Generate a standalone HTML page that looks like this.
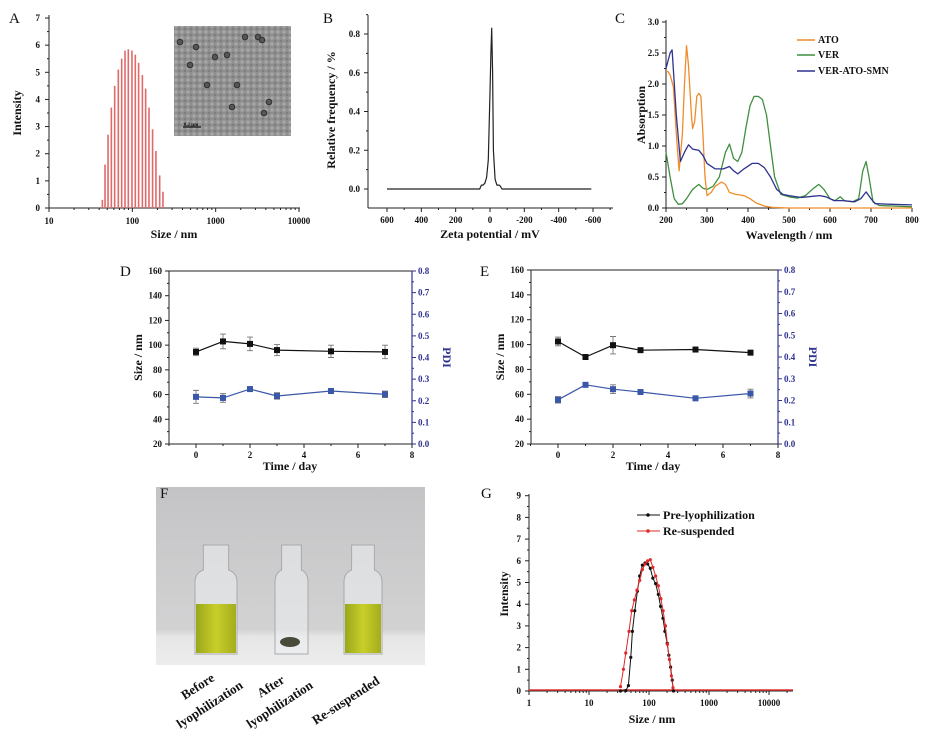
<!DOCTYPE html>
<html><head><meta charset="utf-8">
<style>
html,body{margin:0;padding:0;background:#fff;}
svg{display:block;font-family:"Liberation Serif",serif;}
text{font-weight:bold;fill:#111;}
</style></head>
<body>
<svg id="fig" width="928" height="738" viewBox="0 0 928 738" xmlns="http://www.w3.org/2000/svg">
<defs>
<linearGradient id="bg" x1="0" y1="0" x2="0" y2="1">
<stop offset="0" stop-color="#c4c4c6"/><stop offset="0.8" stop-color="#d2d2d3"/><stop offset="0.84" stop-color="#e6e6e6"/><stop offset="1" stop-color="#ededed"/>
</linearGradient>
<linearGradient id="liq" x1="0" y1="0" x2="1" y2="0">
<stop offset="0" stop-color="#9aa81a"/><stop offset="0.5" stop-color="#c8cf2a"/><stop offset="1" stop-color="#a4ad1c"/>
</linearGradient>
<pattern id="tem" width="6" height="6" patternUnits="userSpaceOnUse"><rect width="6" height="6" fill="#8f8f8f"/><circle cx="2" cy="2" r="1.6" fill="#a9a9a9"/><circle cx="5" cy="5" r="1.2" fill="#7d7d7d"/></pattern>
</defs>
<g id="root"></g>
</svg>
<script>
// ---------- data ----------
const aSizes = [43.7,47.0,51.1,56.0,61.4,67.9,74.5,81.7,89.5,99,108.6,119,132,144.5,158.5,175,192,213,233];
const aIntensity = [0.3,1.6,2.7,3.7,4.5,5.1,5.5,5.8,5.85,5.8,5.65,5.35,4.9,4.4,3.7,2.9,2.1,1.2,0.6];
const aXTicks = [10,100,1000,10000];
const aYTicks = [0,1,2,3,4,5,6,7];

const bZeta = [600,100,60,50,40,30,20,10,0,-5,-10,-15,-20,-30,-40,-55,-60,-70,-590];
const bFreq = [0,0,0,0.02,0.02,0.03,0.06,0.15,0.5,0.7,0.83,0.6,0.2,0.05,0.02,0.02,0.015,0,0];
const bXTicks = [600,400,200,0,-200,-400,-600];
const bYTicks = [0,0.2,0.4,0.6,0.8];

const cAtoW = [200,205,210,218,225,232,240,245,250,255,262,265,270,275,280,285,290,295,300,310,320,335,345,355,370,390,405,420,440,460,500,800];
const cAtoA = [2.2,2.2,2.15,1.95,1.2,0.6,1.2,2.0,2.62,2.3,1.5,1.28,1.4,1.8,1.85,1.8,1.2,0.5,0.2,0.25,0.35,0.42,0.38,0.25,0.22,0.2,0.15,0.08,0.03,0.01,0,0];
const cVerW = [200,210,220,230,240,250,265,280,290,300,315,330,345,355,365,375,385,395,405,415,425,435,445,455,465,480,500,520,540,560,573,585,600,612,625,635,655,670,680,688,695,705,720,800];
const cVerA = [0.9,0.5,0.15,0.06,0.07,0.15,0.3,0.38,0.32,0.3,0.35,0.5,0.9,1.03,0.8,0.75,0.9,1.3,1.65,1.8,1.8,1.75,1.5,1.0,0.5,0.22,0.18,0.16,0.2,0.32,0.38,0.3,0.15,0.12,0.18,0.12,0.1,0.15,0.6,0.75,0.5,0.1,0.04,0.02];
const cSmnW = [200,210,215,225,235,245,255,265,280,290,300,320,340,355,365,375,390,410,425,440,455,470,485,500,530,560,575,590,610,630,660,675,688,700,710,750,800];
const cSmnA = [2.25,2.5,2.55,1.5,0.75,0.9,1.02,0.95,0.93,0.85,0.72,0.63,0.63,0.67,0.6,0.55,0.63,0.72,0.72,0.65,0.5,0.3,0.22,0.2,0.17,0.19,0.2,0.18,0.12,0.12,0.1,0.15,0.26,0.15,0.07,0.06,0.05];
const cXTicks = [200,300,400,500,600,700,800];
const cYTicks = [0,0.5,1.0,1.5,2.0,2.5,3.0];

const days = [0,1,2,3,5,7];
const dSize = [94.5,103,101,96,95,94.5];
const dSizeErr = [3,6,5.5,4.5,5,5.5];
const dPdi = [0.218,0.213,0.254,0.222,0.245,0.23];
const dPdiErr = [0.03,0.02,0.005,0.015,0.005,0.015];
const eSize = [102.5,90,99.5,95.5,96,93.5];
const eSizeErr = [3.5,1,7,1,1,1];
const ePdi = [0.203,0.272,0.252,0.239,0.21,0.232];
const ePdiErr = [0.015,0.005,0.02,0.005,0.005,0.02];
const sizeTicks = [20,40,60,80,100,120,140,160];
const pdiTicks = [0,0.1,0.2,0.3,0.4,0.5,0.6,0.7,0.8];
const dayTicks = [0,2,4,6,8];

const gPreS = [33.5,41,45.4,49.7,52.9,57.9,64.1,70,77.6,85.9,95,105,116,129,143,156,171,184,201,214,229,244,256];
const gPreI = [0,0.02,0.25,1.55,2.75,3.7,4.6,5.3,5.8,5.9,5.85,5.65,5.2,4.95,4.45,3.9,3.35,2.75,2.2,1.65,1.1,0.5,0];
const gResS = [33.5,37.5,41,46.5,51.5,57,63,70,77.6,86,95,105,116,129,143,158,172,188,203,219,236,251];
const gResI = [0.2,1.0,1.75,2.75,3.7,4.2,4.65,5.1,5.6,5.85,6.0,6.05,5.7,5.3,4.85,4.25,3.7,3.0,2.15,1.45,0.7,0.15];
const gXTicks = [1,10,100,1000,10000];
const gYTicks = [0,1,2,3,4,5,6,7,8,9];

// ---------- helpers ----------
const NS = 'http://www.w3.org/2000/svg';
const root = document.getElementById('root');
function mk(tag, attrs, parent){
  const e = document.createElementNS(NS, tag);
  for (const k in attrs) e.setAttribute(k, attrs[k]);
  (parent || root).appendChild(e);
  return e;
}
function txt(x,y,s,size,anchor,parent,fill,rot){
  const t = mk('text',{x:x,y:y,'font-size':size,'text-anchor':anchor||'middle'},parent);
  if (fill) t.setAttribute('style','fill:'+fill);
  if (rot!==undefined) t.setAttribute('transform','rotate('+rot+' '+x+' '+y+')');
  t.textContent = s;
  return t;
}
function line(x1,y1,x2,y2,stroke,w,parent){
  return mk('line',{x1:x1,y1:y1,x2:x2,y2:y2,stroke:stroke||'#222','stroke-width':w||1},parent);
}
function poly(xs,ys,stroke,w,parent){
  const p = xs.map((x,i)=>x.toFixed(1)+','+ys[i].toFixed(1)).join(' ');
  return mk('polyline',{points:p,fill:'none',stroke:stroke,'stroke-width':w||1.2,'stroke-linejoin':'round'},parent);
}
function panelLabel(x,y,s){
  const t = mk('text',{x:x,y:y,'font-size':15,'text-anchor':'start',style:'font-weight:normal;fill:#111'});
  t.textContent = s;
  
  
}

// ---------- Panel A ----------
{
  const g = mk('g',{});
  
  
  const xs = v => 49 + (Math.log10(v)-1)*83.33;
  const ys = v => 208 - v*27.14;
  const al = line(49,208,49,15,'#222',1,g);
  
  
  const bl = line(49,208,300,208,'#222',1,g);
  
  
  aYTicks.forEach(v=>{
    line(45,ys(v),49,ys(v),'#222',1,g);
    if (v<7) line(47,ys(v+0.5),49,ys(v+0.5),'#222',1,g);
    const t = txt(40,ys(v)+3,String(v),9,'end',g);
    
    
  });
  aXTicks.forEach((v,i)=>{
    line(xs(v),208,xs(v),212,'#222',1,g);
    if (i<aXTicks.length-1) for (let m=2;m<10;m++) line(xs(v*m),208,xs(v*m),210,'#222',1,g);
    const t = txt(xs(v),224,String(v),9,'middle',g);
    
    
  });
  aSizes.forEach((s,i)=>{
    const b = mk('rect',{x:xs(s)-0.8,y:ys(aIntensity[i]),width:1.6,height:208-ys(aIntensity[i]),fill:'#e06a6a'},g);
    
    
  });
  const t1 = txt(21,113,'Intensity',12,'middle',g,null,-90);
  
  
  const t2 = txt(174,238,'Size / nm',12,'middle',g);
  
  
  const inset = mk('rect',{x:174,y:26,width:117,height:110,fill:'url(#tem)'},g);
  
  
  [[180,42],[196,47],[190,65],[207,85],[245,37],[258,37],[262,40],[237,85],[269,102],[264,113],[232,107],[215,57],[227,55]].forEach(p=>{
    const c = mk('circle',{cx:p[0],cy:p[1],r:2.8,fill:'#555',stroke:'#333','stroke-width':1},g);
    
    
  });
  line(183,127,201,127,'#111',1.2,g);
  const sb = txt(191,126,'0.2 μm',5,'middle',g);
  
  
}

// ---------- Panel B ----------
{
  const g = mk('g',{});
  
  
  const xs = v => 387 + (600-v)/1200*206;
  const ys = v => 189 - v/0.8*155;
  const al = line(368,208,368,15,'#222',1,g);
  
  
  const bl = line(368,208,613,208,'#222',1,g);
  
  
  bYTicks.forEach(v=>{
    line(364,ys(v),368,ys(v),'#222',1,g);
    line(366,ys(v+0.1),368,ys(v+0.1),'#222',1,g);
    const t = txt(360,ys(v)+3,v.toFixed(1),9,'end',g);
    
    
  });
  bXTicks.forEach(v=>{
    line(xs(v),208,xs(v),212,'#222',1,g);
    line(xs(v-100),208,xs(v-100),210,'#222',1,g);
    const t = txt(xs(v),223,String(v),9,'middle',g);
    
    
  });
  const p = poly(bZeta.map(xs),bFreq.map(ys),'#222',1.2,g);
  
  
  const t1 = txt(335,110,'Relative frequency / %',12,'middle',g,null,-90);
  
  
  const t2 = txt(490,238,'Zeta potential / mV',12,'middle',g);
  
  
}

// ---------- Panel C ----------
{
  const g = mk('g',{});
  
  
  const xs = v => 666 + (v-200)*0.41;
  const ys = v => 208 - v*62;
  const al = line(666,208,666,20,'#222',1,g);
  
  
  const bl = line(666,208,912,208,'#222',1,g);
  
  
  cYTicks.forEach(v=>{
    line(662,ys(v),666,ys(v),'#222',1,g);
    if (v<3) line(664,ys(v+0.25),666,ys(v+0.25),'#222',1,g);
    const t = txt(659,ys(v)+3,v.toFixed(1),9,'end',g);
    
    
  });
  cXTicks.forEach(v=>{
    line(xs(v),208,xs(v),212,'#222',1,g);
    if (v<800) line(xs(v+50),208,xs(v+50),210,'#222',1,g);
    const t = txt(xs(v),223,String(v),9,'middle',g);
    
    
  });
  const p1 = poly(cVerW.map(xs),cVerA.map(ys),'#3f8f3f',1.3,g);
  
  
  const p2 = poly(cAtoW.map(xs),cAtoA.map(ys),'#f08c2a',1.3,g);
  
  
  const p3 = poly(cSmnW.map(xs),cSmnA.map(ys),'#2f3290',1.3,g);
  
  
  const leg = [['ATO','#f08c2a',43],['VER','#3f8f3f',58],['VER-ATO-SMN','#2f3290',74]];
  leg.forEach(l=>{
    const ln = line(797,l[2]-3,815,l[2]-3,l[1],1.5,g);
    
    
    const t = txt(818,l[2],l[0],10,'start',g);
    
    
  });
  const t1 = txt(645,115,'Absorption',12,'middle',g,null,-90);
  
  
  const t2 = txt(789,239,'Wavelength / nm',12,'middle',g);
  
  
}

// ---------- Panels D & E ----------
function stability(name, L, R, T, B, x0, dx, size, sizeErr, pdi, pdiErr, titleX){
  const g = mk('g',{});
  
  
  const xs = d => x0 + d*dx;
  const ys = s => B - (s-20)*(B-T)/140;
  const yp = p => B - p*(B-T)/0.8;
  const frame = mk('rect',{x:L,y:T,width:R-L,height:B-T,fill:'none',stroke:'#222','stroke-width':1},g);
  
  
  const ra = line(R,T,R,B,'#2f3290',1.2,g);
  
  
  sizeTicks.forEach(v=>{
    line(L-4,ys(v),L,ys(v),'#222',1,g);
    if (v<160) line(L-2,ys(v+10),L,ys(v+10),'#222',1,g);
    const t = txt(L-7,ys(v)+3,String(v),9,'end',g);
    
    
  });
  pdiTicks.forEach(v=>{
    line(R,yp(v),R+4,yp(v),'#2f3290',1,g);
    if (v<0.8) line(R,yp(v+0.05),R+2,yp(v+0.05),'#2f3290',1,g);
    const t = txt(R+6,yp(v)+3,v.toFixed(1),9,'start',g,'#2f3290');
    
    
  });
  dayTicks.forEach(v=>{
    line(xs(v),B,xs(v),B+4,'#222',1,g);
    line(xs(v-1),B,xs(v-1),B+2,'#222',1,g);
    const t = txt(xs(v),B+14,String(v),9,'middle',g);
    
    
  });
  [[size,sizeErr,ys,'#111','size'],[pdi,pdiErr,yp,'#3a57a8','pdi']].forEach(s=>{
    const pl = poly(days.map(xs),s[0].map(s[2]),s[3],1.2,g);
    
    
    days.forEach((d,i)=>{
      const x = xs(d), y1 = s[2](s[0][i]+s[1][i]), y2 = s[2](s[0][i]-s[1][i]);
      const eb = mk('path',{d:'M'+x+' '+y1+'V'+y2+'M'+(x-3)+' '+y1+'H'+(x+3)+'M'+(x-3)+' '+y2+'H'+(x+3),stroke:'#777','stroke-width':0.9,fill:'none'},g);
      
      
      const y = s[2](s[0][i]);
      const m = mk('rect',{x:x-3,y:y-3,width:6,height:6,fill:s[3]},g);
      
      
    });
  });
  const t1 = txt(L-27,(T+B)/2,'Size / nm',12,'middle',g,null,-90);
  
  
  const t2 = txt(R+31,(T+B)/2,'PDI',12,'middle',g,'#2f3290',90);
  
  
  const t3 = txt(titleX,B+26,'Time / day',12,'middle',g);
  
  
}
stability('panel-d-stability',169,412,271,444,196,27,dSize,dSizeErr,dPdi,dPdiErr,290);
stability('panel-e-stability',531,778,270,444,558,27.5,eSize,eSizeErr,ePdi,ePdiErr,653);

// ---------- Panel F (photo) ----------
{
  const g = mk('g',{});
  
  
  const bg = mk('rect',{x:156,y:487,width:269,height:178,fill:'url(#bg)'},g);
  
  
  const vials = [[195,237,'before-vial',true],[275,308,'after-vial',false],[344,382,'resuspended-vial',true]];
  vials.forEach(v=>{
    const [a,b] = v; const w=b-a;
    const body = mk('path',{d:'M'+(a+w*0.2)+' 545 h'+(w*0.6)+' v25 q'+(w*0.2)+' 3 '+(w*0.2)+' 12 v72 h-'+w+' v-72 q0 -9 '+(w*0.2)+' -12 z',fill:'rgba(235,238,240,0.55)',stroke:'#aaa','stroke-width':1},g);
    
    
    if (v[3]) {
      const lq = mk('rect',{x:a+1,y:604,width:w-2,height:49,fill:'url(#liq)'},g);
      
      
    } else {
      const pel = mk('ellipse',{cx:290,cy:642,rx:10,ry:5,fill:'#4a4a3a'},g);
      
      
    }
  });
  const labels = [['Before',200,690],['lyophilization',212,708],['After',273,690],['lyophilization',282,708],['Re-suspended',348,704]];
  labels.forEach(l=>{
    const t = txt(l[1],l[2],l[0],13,'middle',g,null,-33);
    
    
  });
}

// ---------- Panel G ----------
{
  const g = mk('g',{});
  
  
  const xs = v => 529 + Math.log10(v)*60;
  const ys = v => 691 - v*21.7;
  const al = line(529,691,529,494,'#222',1,g);
  
  
  const bl = line(529,691,793,691,'#222',1,g);
  
  
  gYTicks.forEach(v=>{
    line(525,ys(v),529,ys(v),'#222',1,g);
    if (v<9) line(527,ys(v+0.5),529,ys(v+0.5),'#222',1,g);
    const t = txt(521,ys(v)+3,String(v),9,'end',g);
    
    
  });
  gXTicks.forEach(v=>{
    line(xs(v),691,xs(v),695,'#222',1,g);
    for (let m=2;m<10;m++) if (xs(v*m)<793) line(xs(v*m),691,xs(v*m),693,'#222',1,g);
    const t = txt(xs(v),706,String(v),9,'middle',g);
    
    
  });
  const base = line(529,690,793,690,'#d33',1.5,g);
  
  
  const series = [[gPreS,gPreI,'#111','pre-lyophilization'],[gResS,gResI,'#e02828','re-suspended']];
  series.forEach(s=>{
    const pl = poly(s[0].map(xs),s[1].map(ys),s[2],1,g);
    
    
    s[0].forEach((v,i)=>{
      const c = mk('circle',{cx:xs(v),cy:ys(s[1][i]),r:1.6,fill:s[2]},g);
      
      
    });
  });
  const leg = [['Pre-lyophilization','#111',519],['Re-suspended','#e02828',535]];
  leg.forEach(l=>{
    const ln = line(637,l[2]-4,660,l[2]-4,l[1],1,g);
    
    
    const d = mk('circle',{cx:648,cy:l[2]-4,r:1.8,fill:l[1]},g);
    
    
    const t = txt(663,l[2],l[0],12,'start',g);
    
    
  });
  const t1 = txt(508,594,'Intensity',12,'middle',g,null,-90);
  
  
  const t2 = txt(652,723,'Size / nm',12,'middle',g);
  
  
}

panelLabel(9,23,'A');
panelLabel(323,23,'B');
panelLabel(615,23,'C');
panelLabel(120,276,'D');
panelLabel(480,276,'E');
panelLabel(160,498,'F');
panelLabel(481,498,'G');
</script>
</body></html>
